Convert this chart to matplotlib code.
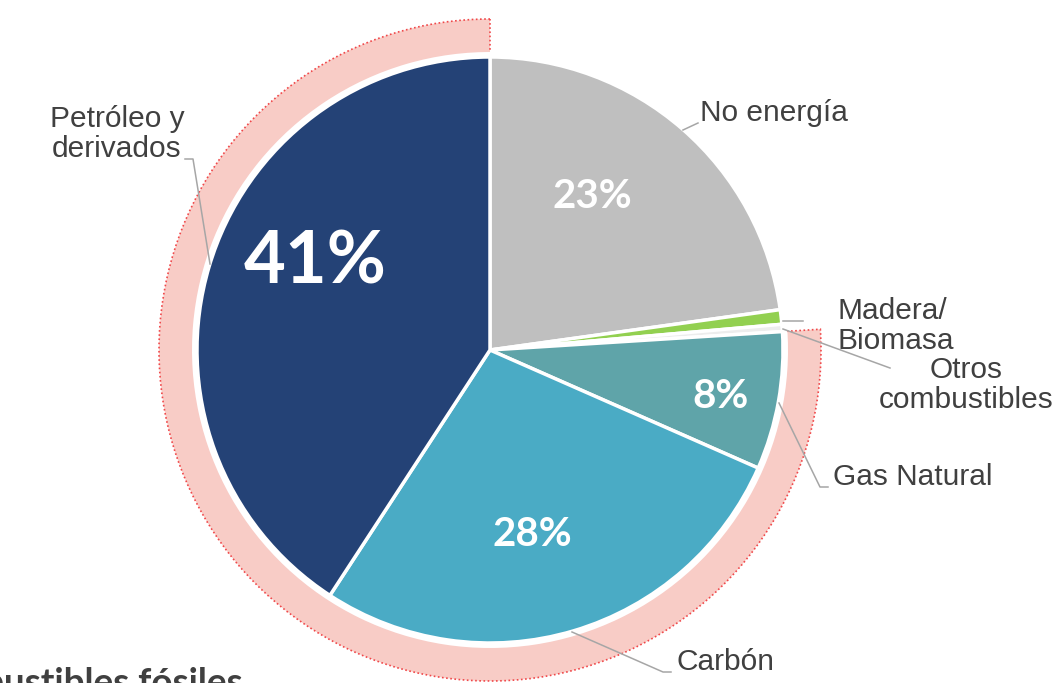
import numpy as np
import matplotlib
matplotlib.use("Agg")
import matplotlib.pyplot as plt
from matplotlib.patches import Wedge

# data (share of total, %)
categories = ["No energía", "Madera/\nBiomasa", "Otros\ncombustibles",
              "Gas Natural", "Carbón", "Petróleo y\nderivados"]
values = [22.8, 0.8, 0.4, 7.6, 27.6, 40.8]
pct_labels = ["23%", "", "", "8%", "28%", "41%"]
fossil = [False, False, False, True, True, True]
colors = ["#BFBFBF", "#92D050", "#EDEDED", "#5FA4A9", "#4AABC5", "#244276"]

W, H = 1057, 683
def Y(y):
    return H - y

cx, cy, R = 490, Y(350), 293

fig = plt.figure(figsize=(W / 100, H / 100), dpi=100)
ax = fig.add_axes([0, 0, 1, 1])

# pink ring around the fossil fuels
total = sum(values)
fossil_frac = sum(v for v, f in zip(values, fossil) if f) / total
th2 = 90 + 360 * fossil_frac
ring = Wedge((cx, cy), 331, 90, th2, width=35, facecolor="#F8CCC6",
             edgecolor="#F0484A", linestyle=(0, (1, 1.5)), linewidth=1.2, zorder=1)
ax.add_patch(ring)
# hide the inner dotted edge
ax.add_patch(Wedge((cx, cy), 298, 89, th2 + 1, width=4, facecolor="white",
                   edgecolor="none", zorder=2))

ax.pie(values, colors=colors, startangle=90, counterclock=False,
       center=(cx, cy), radius=R,
       wedgeprops=dict(edgecolor="white", linewidth=2.5, zorder=3))

# percentage labels
pct_pos = [(592, 197), None, None, (721, 396), (532, 535), (315, 263)]
pct_size = [29, 0, 0, 29, 29, 52]
for lab, pos, sz in zip(pct_labels, pct_pos, pct_size):
    if lab:
        ax.text(pos[0], Y(pos[1]), lab, color="white", fontsize=sz,
                fontweight="bold", family="Lato", ha="center", va="center", zorder=5)

# category labels with leader lines
lab_pos = [(700, 113, "left"), (838, 326, "left"), (966, 385, "center"),
           (833, 477, "left"), (676, 662, "left"), (117, 134, "center")]
leaders = [
    [(683, 130), (698, 123)],
    [(783, 321), (803, 321)],
    [(783, 329), (890, 368)],
    [(779, 403), (820, 487), (828, 487)],
    [(572, 632), (663, 672), (671, 672)],
    [(210, 264), (193, 159), (185, 159)],
]
for name, (lx, ly, ha), pts in zip(categories, lab_pos, leaders):
    ax.text(lx, Y(ly), name, color="#404040", fontsize=21.5, family="Liberation Sans",
            ha=ha, va="center", linespacing=1.1, zorder=6)
    xs = [p[0] for p in pts]
    ys = [Y(p[1]) for p in pts]
    ax.plot(xs, ys, color="#A6A6A6", lw=1.1, zorder=4)

# cut-off heading at the bottom
ax.text(243, Y(694), "Combustibles fósiles", color="#404040", fontsize=26.5,
        fontweight="bold", family="Lato", ha="right", va="baseline")

ax.set_xlim(0, W)
ax.set_ylim(0, H)
ax.set_aspect("equal")
ax.axis("off")

fig.savefig("out.png", dpi=100)
